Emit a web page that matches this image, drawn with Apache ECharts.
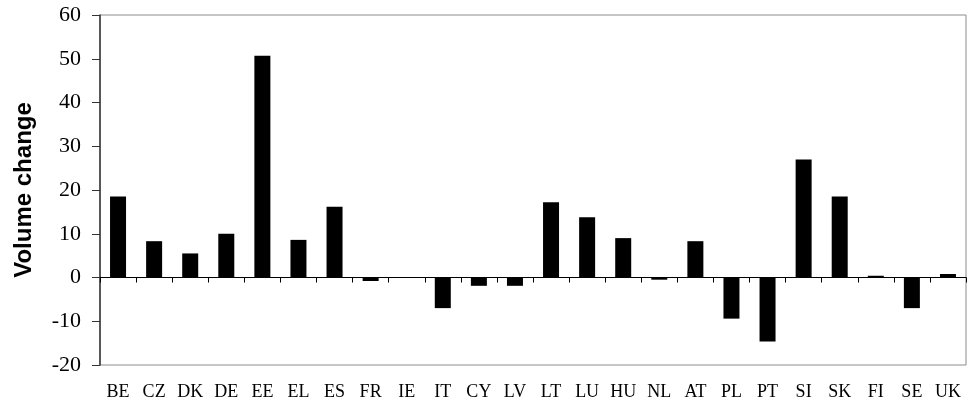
<!DOCTYPE html>
<html>
<head>
<meta charset="utf-8">
<script src="https://cdn.jsdelivr.net/npm/echarts@6/dist/echarts.min.js"></script>
<style>html,body{margin:0;padding:0;background:#fff;}#c{width:979px;height:405px;}</style>
</head>
<body>
<div id="c"></div>
<script>
const categories = ["BE","CZ","DK","DE","EE","EL","ES","FR","IE","IT","CY","LV","LT","LU","HU","NL","AT","PL","PT","SI","SK","FI","SE","UK"];
const values = [18.5, 8.3, 5.5, 10.0, 50.7, 8.6, 16.2, -0.8, 0, -7.0, -1.9, -1.9, 17.2, 13.8, 9.0, -0.5, 8.3, -9.4, -14.6, 27.0, 18.5, 0.4, -7.0, 0.8];
const yTicks = {min: -20, max: 60, interval: 10};

const chart = echarts.init(document.getElementById('c'), null, {renderer: 'canvas'});
chart.setOption({
  animation: false,
  backgroundColor: '#fff',
  grid: {left: 100, right: 13, top: 15, bottom: 40, show: true, borderColor: '#8c8c8c', borderWidth: 1, containLabel: false},
  xAxis: [{
    type: 'category', data: categories, position: 'bottom',
    axisLine: {show: true, onZero: true, lineStyle: {color: '#000', width: 1}},
    axisTick: {show: true, interval: 0, alignWithLabel: false, length: 5, inside: false, lineStyle: {color: '#000'}},
    axisLabel: {show: false},
    splitLine: {show: false}
  }, {
    type: 'category', data: categories, position: 'bottom',
    axisLine: {show: false, onZero: false},
    axisTick: {show: false},
    axisLabel: {show: true, interval: 0, margin: 18, color: '#000', fontFamily: 'Liberation Serif', fontSize: 18},
    splitLine: {show: false}
  }],
  yAxis: {
    type: 'value', min: yTicks.min, max: yTicks.max, interval: yTicks.interval,
    name: 'Volume change', nameLocation: 'middle', nameGap: 64, nameRotate: 90,
    nameTextStyle: {fontFamily: 'Liberation Sans', fontWeight: 'bold', fontSize: 24, color: '#000'},
    axisLine: {show: true, lineStyle: {color: '#333', width: 1.5}},
    axisTick: {show: true, length: 8, lineStyle: {color: '#333'}},
    axisLabel: {color: '#000', fontFamily: 'Liberation Serif', fontSize: 22, margin: 19},
    splitLine: {show: false}
  },
  series: [{
    type: 'bar', data: values, xAxisIndex: 0, barWidth: 16,
    itemStyle: {color: '#000'}
  }]
});
</script>
</body>
</html>
